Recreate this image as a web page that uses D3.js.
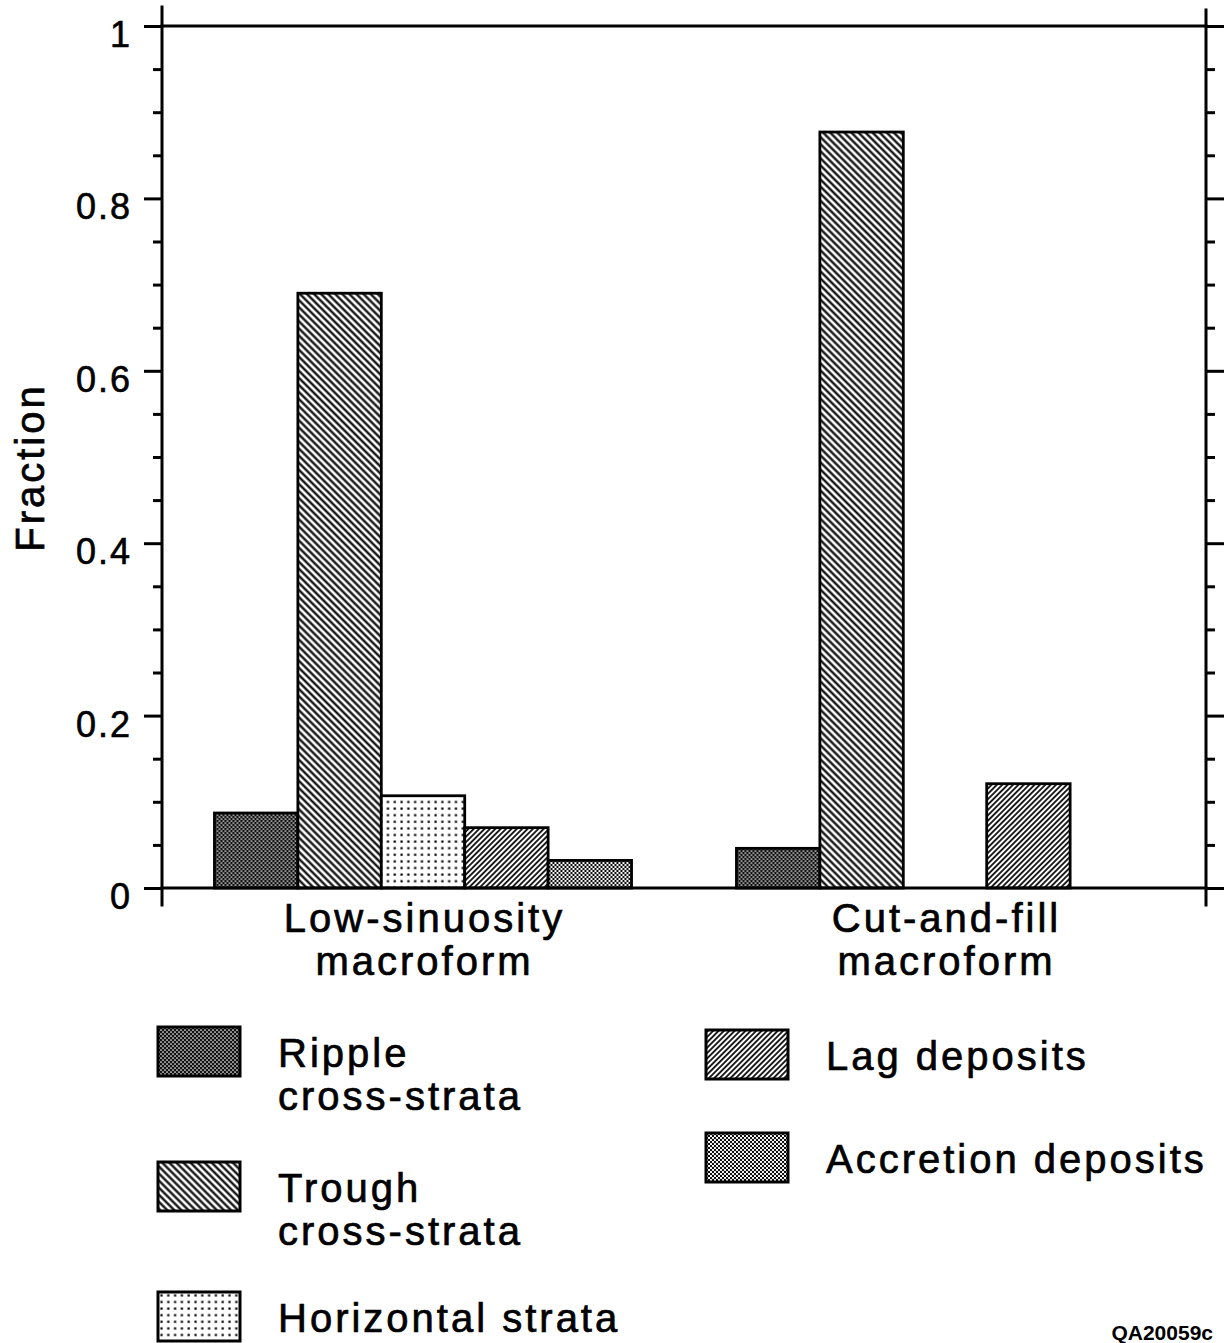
<!DOCTYPE html>
<html>
<head>
<meta charset="utf-8">
<script src="https://cdn.jsdelivr.net/npm/d3@7.9.0/dist/d3.min.js"></script>
<style>
  html, body { margin: 0; padding: 0; background: #fff; }
  svg { display: block; font-family: "Liberation Sans", Arial, Helvetica, sans-serif; }
  .lbl { font-size: 40px; letter-spacing: 3px; fill: #000; stroke: #000; stroke-width: 0.7px; }
  .tick text { font-size: 36px; letter-spacing: 2px; fill: #000; stroke: #000; stroke-width: 0.6px;
               font-family: "Liberation Sans", Arial, sans-serif; }
</style>
</head>
<body>
<div id="chart"></div>
<script>
// --- data ---
const groups = ['Low-sinuosity macroform', 'Cut-and-fill macroform'];
const groupLines = [['Low-sinuosity', 'macroform'], ['Cut-and-fill', 'macroform']];
const series = ['Ripple cross-strata', 'Trough cross-strata', 'Horizontal strata', 'Lag deposits', 'Accretion deposits'];
const lowSinuosity = [0.087, 0.690, 0.107, 0.070, 0.032];
const cutAndFill   = [0.046, 0.877, 0.000, 0.121, 0.000];
const yTicks = [0, 0.2, 0.4, 0.6, 0.8, 1];
const legendLines = [['Ripple', 'cross-strata'], ['Trough', 'cross-strata'], ['Horizontal strata'], ['Lag deposits'], ['Accretion deposits']];
const patternIds = ['ripple', 'trough', 'horiz', 'lag', 'accr'];

const width = 1225, height = 1343;
const plot = { left: 162, right: 1206, top: 26, bottom: 888 };

const svg = d3.select('#chart').append('svg')
  .attr('width', width)
  .attr('height', height);

// fill patterns (black & white print style)
const defs = svg.append('defs');

function pat(id, w, h, transform) {
  const p = defs.append('pattern')
    .attr('id', id)
    .attr('patternUnits', 'userSpaceOnUse')
    .attr('width', w).attr('height', h);
  if (transform) p.attr('patternTransform', transform);
  return p;
}

// ripple: dark crosshatch with small white holes
let p = pat('ripple', 4, 4);
p.append('rect').attr('width', 4).attr('height', 4).attr('fill', '#111');
p.append('circle').attr('cx', 1).attr('cy', 1).attr('r', 0.85).attr('fill', '#fff');
p.append('circle').attr('cx', 3).attr('cy', 3).attr('r', 0.85).attr('fill', '#fff');

// trough: "\\\" lines
p = pat('trough', 5, 10, 'rotate(-45)');
p.append('rect').attr('width', 5).attr('height', 10).attr('fill', '#fff');
p.append('line').attr('x1', 2.5).attr('x2', 2.5).attr('y1', 0).attr('y2', 10)
  .attr('stroke', '#000').attr('stroke-width', 2.2);

// horizontal strata: sparse dot grid
p = pat('horiz', 6.8, 6.6);
p.append('rect').attr('width', 6.8).attr('height', 6.6).attr('fill', '#fff');
p.append('rect').attr('x', 2.4).attr('y', 2.3).attr('width', 2.2).attr('height', 2.2).attr('fill', '#000');

// lag: dense "///" lines
p = pat('lag', 3.8, 10, 'rotate(45)');
p.append('rect').attr('width', 3.8).attr('height', 10).attr('fill', '#fff');
p.append('line').attr('x1', 1.9).attr('x2', 1.9).attr('y1', 0).attr('y2', 10)
  .attr('stroke', '#000').attr('stroke-width', 1.7);

// accretion: fine staggered dots
p = pat('accr', 4, 4);
p.append('rect').attr('width', 4).attr('height', 4).attr('fill', '#fff');
p.append('circle').attr('cx', 1).attr('cy', 1).attr('r', 1.15).attr('fill', '#000');
p.append('circle').attr('cx', 3).attr('cy', 3).attr('r', 1.15).attr('fill', '#000');

// scales
const x0 = d3.scaleBand()
  .domain(groups)
  .range([plot.left, plot.right])
  .paddingInner(0.201)
  .paddingOuter(0.1005);

const x1 = d3.scaleBand()
  .domain(series)
  .range([0, x0.bandwidth()]);

const y = d3.scaleLinear().domain([0, 1]).range([plot.bottom, plot.top]);

const table = groups.map((g, i) => ({
  group: g,
  values: series.map((s, j) => ({ series: s, idx: j, value: (i === 0 ? lowSinuosity : cutAndFill)[j] }))
}));

// bars
svg.append('g').attr('class', 'bars')
  .selectAll('g')
  .data(table)
  .join('g')
  .attr('transform', d => `translate(${x0(d.group)},0)`)
  .selectAll('rect')
  .data(d => d.values.filter(v => v.value > 0))
  .join('rect')
  .attr('x', d => x1(d.series))
  .attr('y', d => y(d.value))
  .attr('width', x1.bandwidth())
  .attr('height', d => y(0) - y(d.value))
  .attr('fill', d => `url(#${patternIds[d.idx]})`)
  .attr('stroke', '#000')
  .attr('stroke-width', 2.8);

// axes
const minorTicks = d3.range(0, 1.0001, 0.05).filter(v => !yTicks.some(t => Math.abs(t - v) < 1e-6));
const fmt = d => (d === 0 || d === 1) ? String(d) : d3.format('.1f')(d);

function styleAxis(g) {
  g.select('.domain').remove();
  g.selectAll('.tick line').attr('stroke', '#000').attr('stroke-width', 3);
}

svg.append('g')
  .attr('transform', `translate(${plot.left},0)`)
  .call(d3.axisLeft(y).tickValues(yTicks).tickSize(18).tickPadding(12).tickFormat(fmt))
  .call(styleAxis)
  .call(g => g.selectAll('.tick text').attr('dy', '0.32em').attr('y', 9));

svg.append('g')
  .attr('transform', `translate(${plot.left},0)`)
  .call(d3.axisLeft(y).tickValues(minorTicks).tickSize(9).tickFormat(''))
  .call(styleAxis);

svg.append('g')
  .attr('transform', `translate(${plot.right},0)`)
  .call(d3.axisRight(y).tickValues(yTicks).tickSize(18).tickFormat(''))
  .call(styleAxis);

svg.append('g')
  .attr('transform', `translate(${plot.right},0)`)
  .call(d3.axisRight(y).tickValues(minorTicks).tickSize(9).tickFormat(''))
  .call(styleAxis);

// frame lines
const frame = svg.append('g').attr('stroke', '#000').attr('stroke-width', 3).attr('stroke-linecap', 'square');
frame.append('line').attr('x1', plot.left).attr('x2', plot.left).attr('y1', y(1) - 19).attr('y2', y(0) + 17);
frame.append('line').attr('x1', plot.right).attr('x2', plot.right).attr('y1', y(1) - 16).attr('y2', y(0) + 17);
frame.append('line').attr('x1', plot.left).attr('x2', plot.right).attr('y1', y(1)).attr('y2', y(1));
frame.append('line').attr('x1', plot.left).attr('x2', plot.right).attr('y1', y(0)).attr('y2', y(0));

// y label
svg.append('text')
  .attr('class', 'lbl')
  .attr('transform', `translate(44,${(385 + 550) / 2}) rotate(-90)`)
  .attr('text-anchor', 'middle')
  .text('Fraction');

// group labels
const gl = svg.append('g');
groupLines.forEach((lines, i) => {
  const cx = x0(groups[i]) + x0.bandwidth() / 2 + 1.5;
  lines.forEach((ln, k) => {
    gl.append('text')
      .attr('class', 'lbl')
      .attr('x', cx)
      .attr('y', 932 + k * 43)
      .attr('text-anchor', 'middle')
      .text(ln);
  });
});

// legend
const legendPos = [
  { x: 158, y: 1027 }, { x: 158, y: 1162 }, { x: 158, y: 1292 },
  { x: 706, y: 1030 }, { x: 706, y: 1133 }
];
const legend = svg.append('g').attr('class', 'legend');
series.forEach((s, i) => {
  const pos = legendPos[i];
  const item = legend.append('g').attr('transform', `translate(${pos.x},${pos.y})`);
  item.append('rect')
    .attr('width', 82).attr('height', 49)
    .attr('fill', `url(#${patternIds[i]})`)
    .attr('stroke', '#000').attr('stroke-width', 3);
  legendLines[i].forEach((ln, k) => {
    item.append('text')
      .attr('class', 'lbl')
      .attr('x', 120)
      .attr('y', 40 + k * 43)
      .text(ln);
  });
});

// figure id
svg.append('text')
  .attr('x', 1213).attr('y', 1340)
  .attr('text-anchor', 'end')
  .style('font-size', '21px')
  .style('font-weight', 'bold')
  .text('QA20059c');
</script>
</body>
</html>
